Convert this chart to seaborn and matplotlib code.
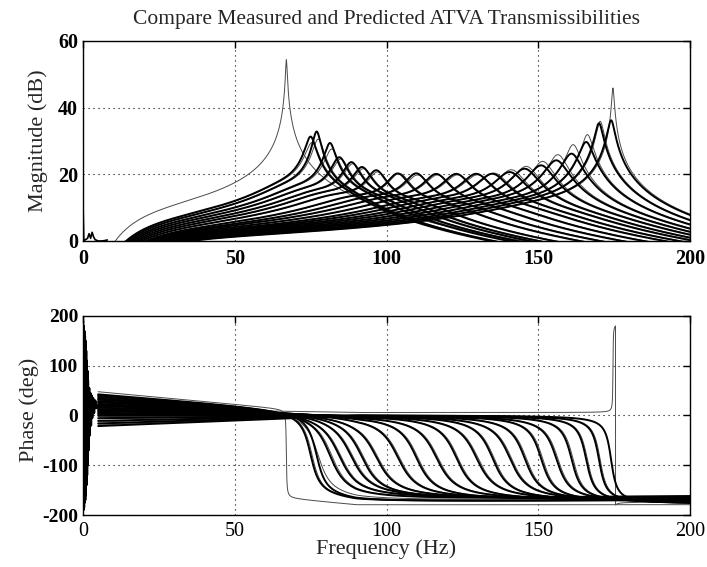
import numpy as np
import pandas as pd
import matplotlib
matplotlib.use("Agg")
import matplotlib.pyplot as plt
import seaborn as sns

# ---------------- data ----------------
title = "Compare Measured and Predicted ATVA Transmissibilities"
x_ticks = [0, 50, 100, 150, 200]
mag_ticks = [0, 20, 40, 60]
phase_ticks = [-200, -100, 0, 100, 200]

# measured transmissibilities (thick lines)
# resonance (Hz), peak (dB), level offsets below / at / above resonance (dB)
meas_fn = [75.0, 77.0, 81.4, 84.5, 88.5, 92.0, 96.7, 103.8, 109.9, 116.5, 123.1,
           129.7, 135.0, 140.7, 145.6, 151.0, 156.0, 161.0, 165.8, 170.0, 174.0]
meas_peak = [31.8, 33.3, 29.8, 25.5, 24.0, 22.5, 21.5, 20.5, 20.5, 20.3, 20.3,
             20.3, 20.3, 20.8, 21.8, 22.8, 24.3, 26.3, 29.8, 35.4, 36.3]
meas_off_lo = [8.0, 7.5, 7.0, 6.5, 6.0, 5.5, 5.0, 4.5, 4.2, 4.0, 3.7,
               3.4, 3.2, 3.0, 2.8, 2.6, 2.4, 2.2, 2.0, 1.8, 1.6]
meas_off_pk = [4.0, 3.0, 1.5, 0.0, -1.0, -2.0, -3.0, -3.5, -3.5, -3.5, -3.5,
               -3.5, -3.5, -3.5, -3.5, -3.5, -3.0, -3.0, -2.5, -2.0, -2.0]
meas_off_hi = [7.0, 6.5, 6.0, 5.5, 5.0, 4.5, 4.0, 3.5, 3.0, 2.5, 2.0,
               1.5, 1.0, 0.5, 0.0, -0.5, -1.0, -1.5, -1.8, -2.0, -2.0]
# phase: damping of the 0 -> -180 deg transition, phase at 10 Hz, constant bias
meas_zeta_ph = [0.03, 0.03, 0.05, 0.055, 0.055, 0.05, 0.05, 0.045, 0.04, 0.04, 0.035,
                0.035, 0.03, 0.03, 0.025, 0.02, 0.02, 0.015, 0.012, 0.01, 0.008]
meas_phase10 = [40, 38, 35, 32, 30, 27, 25, 22, 20, 18, 15,
                12, 10, 8, 5, 3, 0, -5, -10, -15, -20]
meas_bias = [0, 0, 0, 0, 0, 0, 0, 0, 0, 0, 0,
             0, 0, 0, 0, 0, 0, 0, 0, 0, 0]

# predicted transmissibilities (thin lines)
pred_fn = [67.0, 75.5, 77.5, 82.0, 85.0, 89.0, 92.5, 97.2, 104.3, 110.4, 117.0,
           123.6, 130.2, 135.5, 141.2, 146.1, 151.5, 156.5, 161.5, 166.2, 170.4, 174.6]
pred_peak = [55.0, 30.0, 31.0, 28.0, 25.0, 23.5, 22.0, 21.0, 20.5, 20.0, 20.0,
             20.0, 20.0, 20.5, 21.5, 22.5, 24.0, 26.0, 29.0, 32.0, 36.0, 46.0]
pred_off_lo = [11.5, 8.0, 7.5, 7.0, 6.5, 6.0, 5.5, 5.0, 4.5, 4.2, 4.0,
               3.7, 3.4, 3.2, 3.0, 2.8, 2.6, 2.4, 2.2, 2.0, 1.8, 1.6]
pred_off_pk = [11.5, 4.0, 3.0, 1.5, 0.0, -1.0, -2.0, -3.0, -3.5, -3.5, -3.5,
               -3.5, -3.5, -3.5, -3.5, -3.5, -3.5, -3.0, -3.0, -2.5, -2.0, -2.0]
pred_off_hi = [11.5, 7.0, 6.5, 6.0, 5.5, 5.0, 4.5, 4.0, 3.5, 3.0, 2.5,
               2.0, 1.5, 1.0, 0.5, 0.0, -0.5, -1.0, -1.5, -1.8, -2.0, -2.0]
pred_zeta_ph = [0.002, 0.03, 0.04, 0.05, 0.055, 0.055, 0.05, 0.05, 0.045, 0.04, 0.04,
                0.035, 0.035, 0.03, 0.03, 0.025, 0.02, 0.02, 0.015, 0.012, 0.01, -0.0005]
pred_phase10 = [45, 36, 34, 31, 28, 26, 24, 21, 19, 16, 14,
                11, 9, 7, 4, 2, -2, -6, -12, -16, -18, 8]
pred_bias = [0, 0, 0, 0, 0, 0, 0, 0, 0, 0, 0,
             0, 0, 0, 0, 0, 0, 0, 0, 0, 0, 6]

# low-frequency measurement noise (below ~5 Hz)
lowf_freq = [0.0, 0.1, 0.2, 0.3, 0.4, 0.5, 0.6, 0.7, 0.8, 0.9, 1.0, 1.1, 1.2, 1.3,
             1.4, 1.5, 1.6, 1.8, 2.0, 2.2, 2.4, 2.6, 2.8, 3.0, 3.3, 3.6, 4.0, 4.5, 5.0]
lowf_phase = [190, -190, 180, -185, 170, -175, 160, -170, 150, -160, 130, -140, 110,
              -120, 90, -100, 70, -70, 55, -40, 45, -20, 40, -5, 35, 5, 30, 15, 20]
lowf_mag_freq = [0.0, 0.3, 0.6, 1.0, 1.5, 2.0, 2.5, 3.0, 3.5, 4.0, 4.5, 5.0, 6.0, 7.0, 8.0]
lowf_mag = [12.0, -2.0, 0.3, 0.5, 0.8, 2.2, 0.8, 2.6, 1.2, 0.4, 0.2, 0.0, 0.0, 0.1, 0.3]

# ---------------- build curves ----------------
freq = np.arange(5.0, 200.01, 0.02)
HP_FC = 18.0      # low-frequency roll-off of the measurement
PEAK_W = 0.12     # width (in f/fn) of the resonance region


def build(fns, peaks, off_lo, off_pk, off_hi, zph, ph10, bias, kind):
    rows = []
    hp = 20 * np.log10((freq / HP_FC) ** 2 / (1 + (freq / HP_FC) ** 2))
    for i in range(len(fns)):
        r = freq / fns[i]
        zeta = 1.0 / (2 * 10 ** ((peaks[i] - off_pk[i]) / 20.0))
        H = (1 + 2j * zeta * r) / (1 - r ** 2 + 2j * zeta * r)
        win = np.exp(-((r - 1) / PEAK_W) ** 2)
        far = np.where(r < 1, off_lo[i], off_hi[i])
        off = off_pk[i] * win + far * (1 - win)
        mag = 20 * np.log10(np.abs(H)) + off + hp
        zp = zph[i]
        Hp = (1 + 2j * zp * r) / (1 - r ** 2 + 2j * zp * r)
        ph = (np.degrees(np.angle(Hp))
              + ph10[i] * np.clip((90 - freq) / 80.0, 0, None) + bias[i])
        ph = (ph + 180) % 360 - 180
        rows.append(pd.DataFrame({"freq": freq, "mag": mag, "phase": ph,
                                  "curve": f"{kind}{i}"}))
    return pd.concat(rows, ignore_index=True)


dm = build(meas_fn, meas_peak, meas_off_lo, meas_off_pk, meas_off_hi,
           meas_zeta_ph, meas_phase10, meas_bias, "m")
dp = build(pred_fn, pred_peak, pred_off_lo, pred_off_pk, pred_off_hi,
           pred_zeta_ph, pred_phase10, pred_bias, "p")

# ---------------- plot ----------------
sns.set_theme(style="white")
plt.rcParams["font.family"] = ["Liberation Serif", "DejaVu Serif"]
plt.rcParams["axes.unicode_minus"] = False

fig = plt.figure(figsize=(7.07, 5.67), dpi=100)
ax1 = fig.add_axes([0.1174, 0.575, 0.8586, 0.3527])
ax2 = fig.add_axes([0.1174, 0.0917, 0.8586, 0.351])

for ax, col in ((ax1, "mag"), (ax2, "phase")):
    sns.lineplot(data=dp, x="freq", y=col, units="curve", estimator=None,
                 color="#4a4a4a", linewidth=0.7, sort=False, legend=False, ax=ax)
    sns.lineplot(data=dm, x="freq", y=col, units="curve", estimator=None,
                 color="black", linewidth=1.4, sort=False, legend=False, ax=ax)

sns.lineplot(x=lowf_mag_freq, y=lowf_mag, color="black", linewidth=1.2,
             sort=False, ax=ax1)
sns.lineplot(x=lowf_freq, y=lowf_phase, color="black", linewidth=1.8,
             sort=False, ax=ax2)

ax1.set_xlim(0, 200)
ax1.set_ylim(0, 60)
ax2.set_xlim(0, 200)
ax2.set_ylim(-200, 200)

for ax, yt in ((ax1, mag_ticks), (ax2, phase_ticks)):
    ax.set_xticks(x_ticks)
    ax.set_yticks(yt)
    ax.grid(True, linestyle=(0, (1, 3.5)), color="black", linewidth=0.8)
    ax.set_axisbelow(True)
    for sp in ax.spines.values():
        sp.set_color("black")
        sp.set_linewidth(1.0)
    ax.tick_params(direction="in", length=5, width=1, top=True, right=True,
                   colors="black", labelsize=14)

ax1.set_xticklabels([str(v) for v in x_ticks], fontweight="bold", fontsize=14.5)
ax1.set_yticklabels([str(v) for v in mag_ticks], fontweight="bold", fontsize=14.5)
ax2.set_xticklabels([str(v) for v in x_ticks], fontsize=14.5)
ax2.set_yticklabels([str(v) for v in phase_ticks], fontweight="bold", fontsize=14)
ax1.tick_params(axis="x", pad=6)
ax2.tick_params(axis="x", pad=5)

ax1.set_xlabel("")
ax1.set_ylabel("Magnitude (dB)", fontsize=16)
ax2.set_ylabel("Phase (deg)", fontsize=16)
ax2.set_xlabel("Frequency (Hz)", fontsize=16, labelpad=-1)
ax1.yaxis.set_label_coords(-0.058, 0.5)
ax2.yaxis.set_label_coords(-0.072, 0.53)
ax1.set_title(title, fontsize=15.5, pad=12)

fig.savefig("out.png", dpi=100)
